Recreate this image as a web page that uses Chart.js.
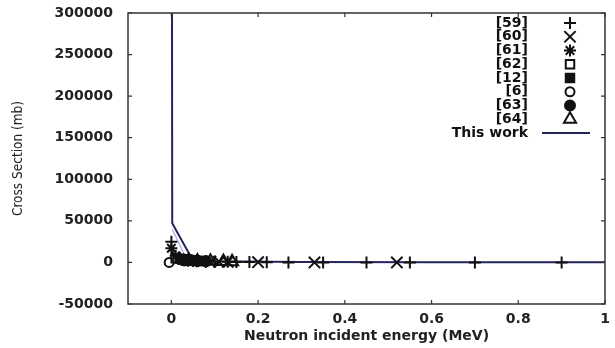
<!DOCTYPE html>
<html>
<head>
<meta charset="utf-8" />
<script src="https://cdn.jsdelivr.net/npm/chart.js@4.4.0/dist/chart.umd.min.js"></script>
<style>
  html, body { margin: 0; padding: 0; background: #fff; }
  #wrap { width: 615px; height: 348px; }
</style>
</head>
<body>
<div id="wrap"><canvas id="chart"></canvas></div>
<script>
// energies in MeV, cross sections in mb
const ref59E = [0.0, 0.03, 0.05, 0.08, 0.1, 0.13, 0.15, 0.18, 0.22, 0.27, 0.35, 0.45, 0.55, 0.7, 0.9];
const ref59S = [25000, 2500, 1800, 1200, 900, 700, 600, 400, 300, 0, 0, 0, 0, 0, 0];
const ref60E = [0.05, 0.07, 0.09, 0.11, 0.13, 0.2, 0.33, 0.52];
const ref60S = [1800, 1400, 1100, 900, 700, 300, 0, 0];
const ref61E = [0.0, 0.01, 0.02, 0.04, 0.06, 0.08];
const ref61S = [17000, 8000, 5000, 3000, 2000, 1500];
const ref62E = [0.01, 0.025, 0.035, 0.05, 0.065];
const ref62S = [5000, 3500, 3000, 2200, 1800];
const ref12E = [0.02, 0.03, 0.04, 0.05, 0.07];
const ref12S = [4500, 3500, 3000, 2500, 1800];
const ref6E = [-0.005, 0.03];
const ref6S = [0, 2000];
const ref63E = [0.025, 0.035, 0.045, 0.06, 0.08];
const ref63S = [3200, 2800, 2500, 2000, 1500];
const ref64E = [0.04, 0.06, 0.09, 0.12, 0.14];
const ref64S = [2500, 1800, 1500, 1000, 800];
const workE = [0.0008, 0.002, 0.047, 0.1, 0.3, 0.6, 1.0];
const workS = [600000, 47000, 4800, 1500, 600, 300, 200];
const faintE = [0.002, 0.035, 0.1];
const faintS = [40000, 4000, 1500];

const xTickValues = [0, 0.2, 0.4, 0.6, 0.8, 1];
const xTickLabels = ["0", "0.2", "0.4", "0.6", "0.8", "1"];

const pts = (xs, ys) => xs.map((x, i) => ({ x: x, y: ys[i] }));

function markers(label, xs, ys, style, filled, radius) {
  return {
    label: label,
    data: pts(xs, ys),
    pointStyle: style,
    pointRadius: radius,
    pointBorderWidth: 2,
    pointBorderColor: "#111",
    pointBackgroundColor: filled ? "#111" : "rgba(0,0,0,0)",
    showLine: false
  };
}

const datasets = [
  markers("[59]", ref59E, ref59S, "cross", false, 6),
  markers("[60]", ref60E, ref60S, "crossRot", false, 8),
  markers("[61]", ref61E, ref61S, "star", false, 6),
  markers("[62]", ref62E, ref62S, "rect", false, 6),
  markers("[12]", ref12E, ref12S, "rect", true, 6),
  markers("[6]", ref6E, ref6S, "circle", false, 4.5),
  markers("[63]", ref63E, ref63S, "circle", true, 5),
  markers("[64]", ref64E, ref64S, "triangle", false, 7),
  {
    label: "This work",
    data: pts(workE, workS),
    showLine: true,
    borderColor: "#23235e",
    borderWidth: 2,
    pointRadius: 0,
    fill: false
  },
  {
    label: "",
    data: pts(faintE, faintS),
    showLine: true,
    borderColor: "#a9a9e6",
    borderWidth: 1.2,
    pointRadius: 0,
    fill: false
  }
];

const framePlugin = {
  id: "frame",
  afterDatasetsDraw(chart) {
    const { ctx, chartArea: a, scales } = chart;
    ctx.save();
    ctx.strokeStyle = "#333";
    ctx.lineWidth = 1.5;
    ctx.strokeRect(a.left, a.top, a.right - a.left, a.bottom - a.top);
    ctx.lineWidth = 1.2;
    ctx.beginPath();
    scales.x.ticks.forEach(t => {
      const px = scales.x.getPixelForValue(t.value);
      ctx.moveTo(px, a.bottom); ctx.lineTo(px, a.bottom - 4);
      ctx.moveTo(px, a.top); ctx.lineTo(px, a.top + 4);
    });
    scales.y.ticks.forEach(t => {
      const py = scales.y.getPixelForValue(t.value);
      ctx.moveTo(a.left, py); ctx.lineTo(a.left + 4, py);
      ctx.moveTo(a.right, py); ctx.lineTo(a.right - 4, py);
    });
    ctx.stroke();
    ctx.restore();
  }
};

const legendPlugin = {
  id: "keyBox",
  afterDraw(chart) {
    const { ctx } = chart;
    const textRight = 528, markX = 570, top = 23, step = 13.75;
    ctx.save();
    ctx.font = "bold 14px 'DejaVu Sans', sans-serif";
    ctx.textAlign = "right";
    ctx.textBaseline = "middle";
    chart.data.datasets.forEach((ds, i) => {
      if (!ds.label) return;
      const y = top + i * step;
      ctx.fillStyle = "#111";
      ctx.fillText(ds.label, textRight, y);
      if (ds.showLine) {
        ctx.strokeStyle = ds.borderColor;
        ctx.lineWidth = ds.borderWidth;
        ctx.beginPath();
        ctx.moveTo(542, y); ctx.lineTo(590, y);
        ctx.stroke();
      } else {
        ctx.strokeStyle = ds.pointBorderColor;
        ctx.fillStyle = ds.pointBackgroundColor;
        ctx.lineWidth = ds.pointBorderWidth;
        Chart.helpers.drawPoint(ctx, {
          pointStyle: ds.pointStyle, radius: ds.pointRadius, rotation: 0,
          borderWidth: ds.pointBorderWidth
        }, markX, y);
      }
    });
    ctx.restore();
  }
};

new Chart(document.getElementById("chart"), {
  type: "scatter",
  data: { datasets: datasets },
  options: {
    responsive: true,
    maintainAspectRatio: false,
    animation: false,
    layout: { padding: { top: 13, right: 3, left: 0, bottom: 0 } },
    plugins: { legend: { display: false }, tooltip: { enabled: false } },
    scales: {
      x: {
        type: "linear",
        min: -0.1,
        max: 1,
        grid: { display: false, drawTicks: false },
        border: { display: false },
        afterBuildTicks: s => { s.ticks = xTickValues.map(v => ({ value: v })); },
        afterFit: s => { s.height = 44; s.paddingLeft = 0; s.paddingRight = 0; },
        ticks: {
          padding: 7,
          color: "#222",
          font: { family: "'DejaVu Sans', sans-serif", size: 14, weight: "bold" },
          callback: v => xTickLabels[xTickValues.indexOf(v)]
        },
        title: {
          display: true,
          text: "Neutron incident energy (MeV)",
          color: "#222",
          padding: { top: 0, bottom: 3 },
          font: { family: "'DejaVu Sans', sans-serif", size: 14, weight: "bold" }
        }
      },
      y: {
        type: "linear",
        min: -50000,
        max: 300000,
        grid: { display: false, drawTicks: false },
        border: { display: false },
        afterFit: s => { s.width = 128; s.paddingTop = 0; s.paddingBottom = 0; },
        ticks: {
          stepSize: 50000,
          padding: 15,
          color: "#222",
          font: { family: "'DejaVu Sans', sans-serif", size: 14, weight: "bold" },
          callback: v => String(v)
        },
        title: {
          display: true,
          text: "Cross Section (mb)",
          color: "#222",
          padding: { top: 10, bottom: 0 },
          font: { family: "'DejaVu Sans Condensed', 'Liberation Sans Narrow', sans-serif", size: 13.5 }
        }
      }
    }
  },
  plugins: [framePlugin, legendPlugin]
});
</script>
</body>
</html>
